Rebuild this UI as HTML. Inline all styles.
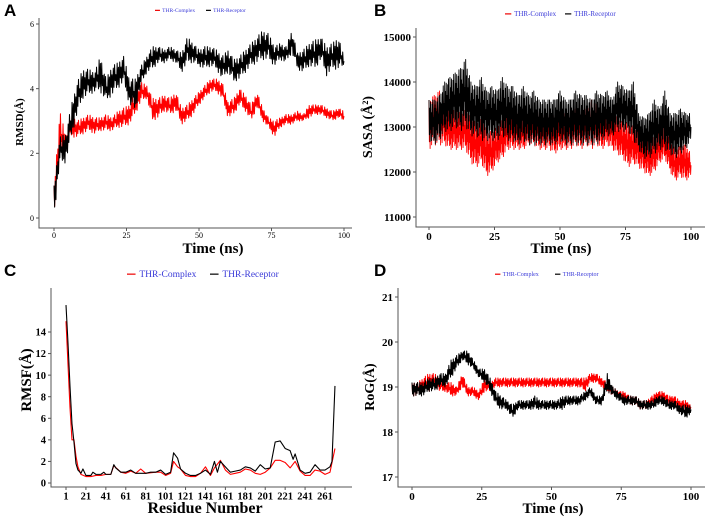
<!DOCTYPE html>
<html><head><meta charset="utf-8"><style>
body{margin:0;background:#fff;}
svg{display:block;font-family:"Liberation Serif",serif;}
.lt{font-family:"Liberation Sans",sans-serif;font-weight:bold;font-size:17px;}
</style></head><body>
<svg id="c" width="708" height="520" viewBox="0 0 708 520"></svg>
<script>
// Panel A: RMSD envelopes (every 2 ns)
const rmsdTime=[0,2,4,6,8,10,12,14,16,18,20,22,24,26,28,30,32,34,36,38,40,42,44,46,48,50,52,54,56,58,60,62,64,66,68,70,72,74,76,78,80,82,84,86,88,90,92,94,96,98,100];
const rmsdRecLo=[0,1.7,1.7,2.5,3.2,3.7,3.8,3.9,3.9,3.6,3.8,4.0,4.2,3.5,3.3,4.1,4.5,4.6,4.8,4.8,4.9,4.8,4.5,4.8,4.8,4.7,4.6,4.7,4.6,4.3,4.5,4.2,4.3,4.5,4.7,4.8,4.9,4.9,4.7,4.9,4.8,5.1,4.6,4.5,4.7,4.6,4.9,4.4,4.6,4.6,4.7];
const rmsdRecHi=[1,2.5,2.6,3.5,4.2,4.6,4.6,4.5,5.0,4.3,4.7,4.8,5.0,4.3,4.3,4.7,5.0,5.3,5.3,5.2,5.3,5.2,5.1,5.6,5.4,5.2,5.3,5.3,5.2,5.0,5.2,4.9,5.0,5.2,5.4,5.6,5.8,5.7,5.3,5.4,5.3,5.8,5.1,5.2,5.4,5.5,5.6,5.3,5.4,5.6,5.0];
const rmsdComLo=[0,1.8,2.0,2.5,2.5,2.6,2.7,2.6,2.7,2.7,2.7,2.8,2.8,2.9,3.2,3.6,3.7,3.0,3.1,3.3,3.2,3.3,2.9,3.0,3.2,3.5,3.7,3.9,3.9,3.7,3.1,3.2,3.5,3.3,3.0,3.4,3.0,2.8,2.5,2.8,2.9,2.9,3.0,3.0,3.1,3.2,3.2,3.1,3.0,3.1,3.0];
const rmsdComHi=[1,3.3,2.6,3.2,3.0,3.1,3.2,3.1,3.1,3.2,3.1,3.3,3.4,3.5,3.9,4.2,4.1,3.7,3.7,3.8,3.7,3.9,3.4,3.5,3.7,3.9,4.1,4.3,4.3,4.2,3.6,3.7,4.0,3.8,3.5,3.9,3.4,3.1,3.0,3.1,3.2,3.2,3.3,3.2,3.5,3.5,3.5,3.4,3.3,3.4,3.3];
const rmsdTicksX=[0,25,50,75,100];
const rmsdTicksY=[0,2,4,6];
// Panel B: SASA envelopes
const sasaRecLo=[12700,12600,12700,12900,12900,13000,12900,13000,12800,12800,12700,12700,12700,12700,12800,12700,12700,12600,12700,12600,12600,12600,12600,12600,12600,12700,12600,12600,12600,12600,12600,12600,12600,12700,12800,12800,12900,12900,12900,12700,12500,12300,12300,12400,12500,12500,12400,12300,12400,12500,12700];
const sasaRecHi=[13600,13600,13700,14000,14100,14200,14300,14500,14000,13900,14100,13800,13900,13800,14100,13900,13900,13700,13900,13700,13800,13600,13600,13600,13600,13800,13600,13600,13800,13700,13700,13600,13800,13700,13800,13600,14000,13900,13800,14000,13300,13200,13300,13600,13400,13800,13300,13300,13400,13300,13300];
const sasaComLo=[12500,12600,12600,12600,12500,12500,12500,12500,12200,12100,12200,11900,12000,12200,12300,12500,12500,12500,12500,12600,12600,12500,12500,12500,12400,12500,12500,12500,12600,12500,12600,12500,12600,12500,12600,12500,12400,12300,12100,12200,12100,12000,11900,12000,12200,12300,12000,11800,11900,11800,11900];
const sasaComHi=[13600,13700,13800,13500,13300,13400,13300,13400,13200,13100,13200,12900,12900,13000,13200,13300,13400,13300,13200,13300,13300,13400,13200,13400,13200,13300,13300,13400,13400,13400,13400,13600,13500,13300,13400,13300,13200,13100,13100,13000,12900,12800,12700,12800,12900,13000,12700,12500,12600,12600,12400];
const sasaTicksY=[11000,12000,13000,14000,15000];
// Panel C: RMSF
const resRec=[1,3,5,7,9,11,13,16,18,21,26,28,31,36,39,41,46,49,51,56,61,66,71,76,81,86,91,96,101,106,109,113,116,121,126,131,136,141,146,150,153,156,161,166,171,176,181,186,191,196,201,206,211,216,221,226,229,231,236,241,246,251,256,261,266,268,271];
const rmsfRec=[16.5,13,9,5.5,3.8,1.8,1.2,0.9,1.3,0.7,0.7,1.0,0.8,0.8,1.0,0.8,0.8,1.7,1.4,1.0,1.0,1.2,0.9,0.9,0.9,1.0,1.0,1.2,0.8,1.0,2.8,2.3,1.3,0.9,0.7,0.7,0.9,1.2,0.8,2.0,1.0,2.0,1.5,1.0,1.1,1.2,1.5,1.4,1.1,1.7,1.3,1.4,3.8,3.9,3.2,3.0,2.2,2.7,1.2,0.9,1.0,1.7,1.2,1.2,1.5,2.0,9.0];
const resCom=[1,3,5,7,9,11,13,16,21,26,31,36,41,46,49,56,61,66,71,76,81,91,96,101,106,109,113,116,121,126,131,136,141,146,150,156,161,166,171,176,181,186,191,196,201,206,211,216,221,226,231,236,241,246,251,256,261,266,271];
const rmsfCom=[15,11,7,4,4.0,2.5,1.5,0.8,0.6,0.6,0.7,0.7,0.8,0.8,1.6,1.0,0.9,1.1,0.9,1.3,0.9,1.0,1.0,0.7,0.9,2.0,1.5,1.3,0.7,0.6,0.6,0.9,1.5,0.7,1.4,2.1,1.2,0.8,0.9,1.0,1.3,1.2,0.9,0.8,1.0,1.4,2.1,2.1,1.9,1.4,2.0,1.1,0.7,0.7,1.2,1.1,0.8,1.0,3.2];
const rmsfTicksX=[1,21,41,61,81,101,121,141,161,181,201,221,241,261];
const rmsfTicksY=[0,2,4,6,8,10,12,14];
// Panel D: RoG envelopes
const rogRecLo=[18.8,18.8,18.8,18.9,18.9,19.0,19.0,19.2,19.4,19.6,19.5,19.4,19.2,19.1,18.9,18.6,18.5,18.5,18.3,18.5,18.5,18.5,18.5,18.5,18.5,18.5,18.5,18.5,18.6,18.6,18.6,18.7,18.8,18.6,18.6,18.9,18.8,18.7,18.6,18.6,18.6,18.5,18.5,18.5,18.6,18.6,18.5,18.5,18.4,18.3,18.4];
const rogRecHi=[19.1,19.1,19.1,19.2,19.2,19.3,19.3,19.6,19.7,19.8,19.8,19.6,19.4,19.4,19.2,18.9,18.8,18.7,18.6,18.7,18.7,18.7,18.8,18.7,18.7,18.7,18.7,18.8,18.8,18.8,18.8,18.9,19.0,18.8,18.8,19.3,19.0,18.9,18.8,18.8,18.8,18.7,18.7,18.7,18.8,18.8,18.7,18.7,18.6,18.6,18.6];
const rogComLo=[18.8,18.8,18.9,18.9,19.0,18.9,18.9,18.8,18.8,19.0,18.8,18.8,18.7,18.9,18.9,19.0,19.0,19.0,19.0,19.0,19.0,19.0,19.0,19.0,19.0,19.0,19.0,19.0,19.0,19.0,19.0,18.9,19.1,19.1,19.0,18.9,18.8,18.8,18.7,18.6,18.6,18.5,18.5,18.6,18.7,18.7,18.6,18.6,18.5,18.5,18.5];
const rogComHi=[19.1,19.1,19.2,19.3,19.3,19.2,19.1,19.1,19.0,19.3,19.0,19.0,18.9,19.2,19.1,19.2,19.2,19.2,19.2,19.2,19.2,19.2,19.2,19.2,19.2,19.2,19.2,19.2,19.2,19.2,19.2,19.2,19.3,19.3,19.2,19.1,19.0,18.9,18.9,18.8,18.8,18.7,18.7,18.8,18.9,18.9,18.8,18.8,18.7,18.7,18.6];
const rogTicksY=[17,18,19,20,21];
const timeTicksX=[0,25,50,75,100];

const NS='http://www.w3.org/2000/svg';
const svg=document.getElementById('c');
function mk(tag,at,parent,txt){const e=document.createElementNS(NS,tag);for(const k in at)e.setAttribute(k,at[k]);if(txt!==undefined)e.textContent=txt;(parent||svg).appendChild(e);return e;}
function lin(d0,d1,r0,r1){return v=>r0+(v-d0)*(r1-r0)/(d1-d0);}
// fixed drawing pattern for amplitude within envelope (style, not data)
const jig=[1,0.15,0.8,0,0.95,0.3,0.7,0.05,0.9,0.2,1,0.4,0.6,0.1];

function panel(p){
  const g=mk('g',{});
  
  
  const x=lin(p.xd[0],p.xd[1],p.xr[0],p.xr[1]), y=lin(p.yd[0],p.yd[1],p.yr[0],p.yr[1]);
  p.series.forEach(s=>{
    let d='';
    if(s.lo){
      const n=s.t.length; let c=0;
      for(let i=0;i<n-1;i++){
        for(let k=0;k<s.sub;k++){
          const f=k/s.sub, tt=s.t[i]+(s.t[i+1]-s.t[i])*f;
          const lo=s.lo[i]+(s.lo[i+1]-s.lo[i])*f, hi=s.hi[i]+(s.hi[i+1]-s.hi[i])*f;
          const a=jig[c%jig.length]; c++;
          const v=lo+(hi-lo)*a;
          d+=(d?'L':'M')+x(tt).toFixed(2)+','+y(v).toFixed(2);
        }
      }
      d+='L'+x(s.t[n-1]).toFixed(2)+','+y((s.lo[n-1]+s.hi[n-1])/2).toFixed(2);
    } else {
      s.t.forEach((t,i)=>{d+=(i?'L':'M')+x(t).toFixed(2)+','+y(s.v[i]).toFixed(2);});
    }
    const pth=mk('path',{d:d,fill:'none',stroke:s.color,'stroke-width':s.w,'stroke-linejoin':'round'},g);
    
    
  });
  const ax=mk('path',{d:`M${p.ax},${p.atop}V${p.ay}H${p.aright}`,fill:'none',stroke:'#555','stroke-width':1},g);
  
  
  p.xt.forEach(t=>{
    mk('line',{x1:x(t),x2:x(t),y1:p.ay,y2:p.ay+3,stroke:'#555'},g);
    const tl=mk('text',{x:x(t),y:p.ay+p.tfs+2,'text-anchor':'middle','font-size':p.tfs,'font-weight':p.tb},g,String(t));
    
    
  });
  p.yt.forEach(t=>{
    mk('line',{x1:p.ax-3,x2:p.ax,y1:y(t),y2:y(t),stroke:'#555'},g);
    const tl=mk('text',{x:p.ax-5,y:y(t)+p.tfs*0.35,'text-anchor':'end','font-size':p.tfs,'font-weight':p.tb},g,String(t));
    
    
  });
  const xt=mk('text',{x:p.xtx,y:p.xty,'text-anchor':'middle','font-size':p.xfs,'font-weight':'bold'},g,p.xtitle);
  
  
  const yt=mk('text',{x:0,y:0,'text-anchor':'middle','font-size':p.yfs,'font-weight':'bold',transform:`translate(${p.ytx},${p.yty}) rotate(-90)`},g,p.ytitle);
  
  
  const lg=mk('g',{},g);
  
  
  const L=p.leg;
  mk('line',{x1:L.x,x2:L.x+L.s*0.9,y1:L.y-L.s*0.3,y2:L.y-L.s*0.3,stroke:'#e00','stroke-width':1.2},lg);
  const t1=mk('text',{x:L.x+L.s*1.3,y:L.y,'font-size':L.s,fill:'#3a3ad8'},lg,'THR-Complex');
  
  
  mk('line',{x1:L.x2,x2:L.x2+L.s*0.9,y1:L.y-L.s*0.3,y2:L.y-L.s*0.3,stroke:'#000','stroke-width':1.2},lg);
  const t2=mk('text',{x:L.x2+L.s*1.3,y:L.y,'font-size':L.s,fill:'#3a3ad8'},lg,'THR-Receptor');
  
  
  const lt=mk('text',{x:p.lx,y:p.ly,class:'lt'},g,p.letter);
  
  
}

panel({name:'panel-a-rmsd',letter:'A',lx:4,ly:16,xd:[0,100],xr:[54,344],yd:[0,6],yr:[218,24],
  ax:39,atop:18,ay:228,aright:352,xt:rmsdTicksX,yt:rmsdTicksY,tfs:8,tb:'normal',
  xtitle:'Time (ns)',xtx:213,xty:253,xfs:15,ytitle:'RMSD(Å)',ytx:23,yty:122,yfs:11,
  leg:{x:155,x2:206,y:12,s:5.5},
  series:[{name:'rmsd-complex-line',t:rmsdTime,lo:rmsdComLo,hi:rmsdComHi,sub:9,color:'#f00',w:1},
          {name:'rmsd-receptor-line',t:rmsdTime,lo:rmsdRecLo,hi:rmsdRecHi,sub:9,color:'#000',w:1}]});
panel({name:'panel-b-sasa',letter:'B',lx:374,ly:16,xd:[0,100],xr:[429,691],yd:[11000,15000],yr:[217,37],
  ax:416,atop:28,ay:227,aright:705,xt:timeTicksX,yt:sasaTicksY,tfs:11,tb:'bold',
  xtitle:'Time (ns)',xtx:561,xty:253,xfs:15,ytitle:'SASA (Å²)',ytx:372,yty:127,yfs:14,
  leg:{x:505,x2:565,y:16,s:7},
  series:[{name:'sasa-complex-line',t:rmsdTime,lo:sasaComLo,hi:sasaComHi,sub:14,color:'#f00',w:0.9},
          {name:'sasa-receptor-line',t:rmsdTime,lo:sasaRecLo,hi:sasaRecHi,sub:14,color:'#000',w:0.9}]});
panel({name:'panel-c-rmsf',letter:'C',lx:4,ly:276,xd:[1,261],xr:[66,325],yd:[0,14],yr:[483,332],
  ax:51,atop:288,ay:487,aright:352,xt:rmsfTicksX,yt:rmsfTicksY,tfs:10.5,tb:'bold',
  xtitle:'Residue Number',xtx:205,xty:513,xfs:16,ytitle:'RMSF(Å)',ytx:31,yty:380,yfs:15,
  leg:{x:127,x2:210,y:277,s:9.5},
  series:[{name:'rmsf-complex-line',t:resCom,v:rmsfCom,color:'#f00',w:1.1},
          {name:'rmsf-receptor-line',t:resRec,v:rmsfRec,color:'#000',w:1.1}]});
panel({name:'panel-d-rog',letter:'D',lx:374,ly:276,xd:[0,100],xr:[412,691],yd:[17,21],yr:[477,297],
  ax:398,atop:288,ay:487,aright:705,xt:timeTicksX,yt:rogTicksY,tfs:11,tb:'bold',
  xtitle:'Time (ns)',xtx:553,xty:513,xfs:15,ytitle:'RoG(Å)',ytx:374,yty:387,yfs:14,
  leg:{x:495,x2:555,y:276,s:6},
  series:[{name:'rog-complex-line',t:rmsdTime,lo:rogComLo,hi:rogComHi,sub:10,color:'#f00',w:1},
          {name:'rog-receptor-line',t:rmsdTime,lo:rogRecLo,hi:rogRecHi,sub:10,color:'#000',w:1}]});
</script>
</body></html>
